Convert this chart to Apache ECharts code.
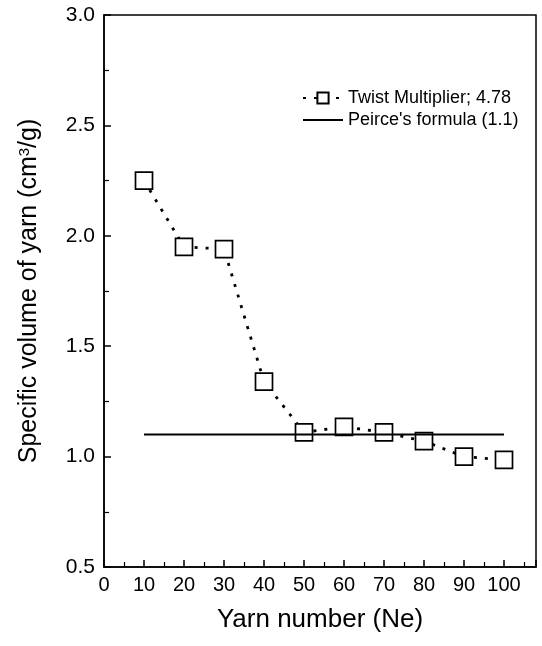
<!DOCTYPE html>
<html>
<head>
<meta charset="utf-8">
<script src="https://cdn.jsdelivr.net/npm/echarts@6/dist/echarts.min.js"></script>
<style>html,body{margin:0;padding:0;background:#fff}#c{width:542px;height:646px}</style>
</head>
<body>
<div id="c"></div>
<script>
const yarnNumbers = [10, 20, 30, 40, 50, 60, 70, 80, 90, 100];
const specificVolume = [2.25, 1.95, 1.94, 1.34, 1.11, 1.135, 1.11, 1.07, 1.00, 0.985];
const peirceX = [10, 100];
const peirceValue = [1.1, 1.1];
const seriesNames = ['Twist Multiplier; 4.78', "Peirce's formula (1.1)"];

const font = "'Liberation Sans', Arial, Helvetica, sans-serif";
const chart = echarts.init(document.getElementById('c'), null, {renderer: 'canvas'});
chart.setOption({
  backgroundColor: '#fff',
  animation: false,
  textStyle: {fontFamily: font, color: '#000'},
  grid: {left: 104, right: 6, top: 15, bottom: 79, show: true, borderColor: '#000', borderWidth: 1.5, backgroundColor: 'transparent'},
  legend: {
    orient: 'vertical', left: 297, top: 84, itemGap: 4, itemWidth: 40, itemHeight: 14,
    textStyle: {fontFamily: font, fontSize: 18, color: '#000'},
    data: [
      {name: seriesNames[0]},
      {name: seriesNames[1], icon: 'path://M0,0 H40 V2 H0 Z'}
    ]
  },
  xAxis: {
    type: 'value', min: 0, max: 108, interval: 10,
    name: 'Yarn number (Ne)', nameLocation: 'middle', nameGap: 40,
    nameTextStyle: {fontFamily: font, fontSize: 26, color: '#000'},
    axisLine: {show: true, lineStyle: {color: '#000', width: 1.5}},
    axisTick: {show: true, inside: true, length: 7, lineStyle: {color: '#000', width: 1.5}},
    minorTick: {show: true, splitNumber: 2, length: 5, lineStyle: {color: '#000', width: 1.2}},
    splitLine: {show: false},
    axisLabel: {fontFamily: font, fontSize: 20, color: '#000', margin: 8,
      formatter: v => (v <= 100 && v % 10 === 0) ? String(v) : ''}
  },
  yAxis: {
    type: 'value', min: 0.5, max: 3.0, interval: 0.5,
    name: '{a|Specific volume of yarn (cm}{s|3}{a|/g)}', nameLocation: 'middle', nameGap: 62,
    nameTextStyle: {rich: {
      a: {fontFamily: font, fontSize: 25, color: '#000'},
      s: {fontFamily: font, fontSize: 15, color: '#000', verticalAlign: 'top', padding: [0, 0, 10, 0]}
    }},
    axisLine: {show: true, lineStyle: {color: '#000', width: 1.5}},
    axisTick: {show: true, inside: true, length: 7, lineStyle: {color: '#000', width: 1.5}},
    minorTick: {show: true, splitNumber: 2, length: 5, lineStyle: {color: '#000', width: 1.2}},
    splitLine: {show: false},
    axisLabel: {fontFamily: font, fontSize: 21, color: '#000', margin: 9,
      formatter: v => v.toFixed(1)}
  },
  series: [
    {
      name: seriesNames[0], type: 'line', z: 2,
      data: yarnNumbers.map((x, i) => [x, specificVolume[i]]),
      symbol: 'rect', symbolSize: 17,
      lineStyle: {color: '#000', width: 2.8, type: [3, 8]},
      itemStyle: {color: '#fff', borderColor: '#000', borderWidth: 1.7}
    },
    {
      name: seriesNames[1], type: 'line', z: 3,
      data: peirceX.map((x, i) => [x, peirceValue[i]]),
      symbol: 'none', showSymbol: false,
      lineStyle: {color: '#000', width: 2},
      itemStyle: {color: '#000'}
    }
  ]
});
</script>
</body>
</html>
